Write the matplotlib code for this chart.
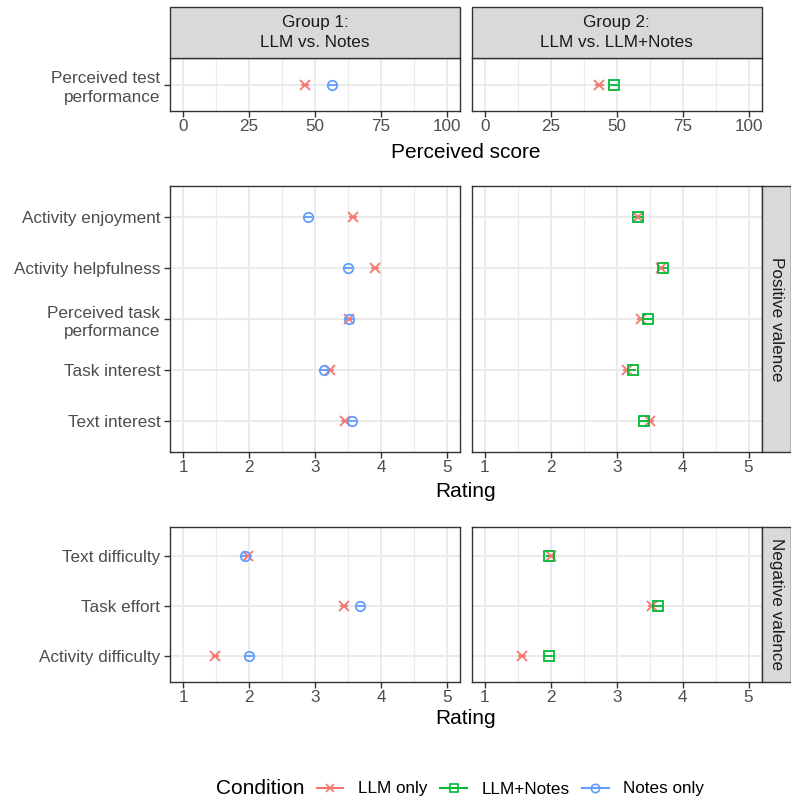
import matplotlib
matplotlib.use('Agg')
import matplotlib.pyplot as plt
from matplotlib.patches import Rectangle
from matplotlib.lines import Line2D

plt.rcParams['font.family'] = ['Liberation Sans', 'DejaVu Sans']

W, H = 791, 801
fig = plt.figure(figsize=(W / 100, H / 100), dpi=100)

# ---------------- data ----------------
conditions = ['LLM only', 'LLM+Notes', 'Notes only']
colors = {'LLM only': '#F8766D', 'LLM+Notes': '#00BA38', 'Notes only': '#619CFF'}
markers = {'LLM only': 'x', 'LLM+Notes': 's', 'Notes only': 'o'}

group_titles = ['Group 1:\nLLM vs. Notes', 'Group 2:\nLLM vs. LLM+Notes']
row_titles = [None, 'Positive valence', 'Negative valence']

perceived_items = ['Perceived test\nperformance']
g1_perceived_llm = [46.3]
g1_perceived_notes = [56.6]
g2_perceived_llm = [43.4]
g2_perceived_llmnotes = [49.0]

positive_items = ['Activity enjoyment', 'Activity helpfulness',
                  'Perceived task\nperformance', 'Task interest', 'Text interest']
g1_pos_llm = [3.58, 3.91, 3.52, 3.23, 3.45]
g1_pos_notes = [2.89, 3.50, 3.51, 3.14, 3.56]
g2_pos_llm = [3.33, 3.67, 3.37, 3.16, 3.50]
g2_pos_llmnotes = [3.33, 3.71, 3.48, 3.24, 3.42]

negative_items = ['Text difficulty', 'Task effort', 'Activity difficulty']
g1_neg_llm = [1.99, 3.44, 1.49]
g1_neg_notes = [1.94, 3.69, 2.00]
g2_neg_llm = [2.01, 3.53, 1.56]
g2_neg_llmnotes = [1.98, 3.62, 1.97]

score_ticks = [0, 25, 50, 75, 100]
rating_ticks = [1, 2, 3, 4, 5]
score_err = 1.6
rating_err = 0.06

rows = [
    dict(items=perceived_items, ticks=score_ticks, xlim=(-5, 105), minor=[12.5, 37.5, 62.5, 87.5],
         err=score_err, xlabel='Perceived score', ylim=(-0.6, 0.6),
         g1={'LLM only': g1_perceived_llm, 'Notes only': g1_perceived_notes},
         g2={'LLM only': g2_perceived_llm, 'LLM+Notes': g2_perceived_llmnotes}),
    dict(items=positive_items, ticks=rating_ticks, xlim=(0.8, 5.2), minor=[1.5, 2.5, 3.5, 4.5],
         err=rating_err, xlabel='Rating', ylim=(-0.6, 4.6),
         g1={'LLM only': g1_pos_llm, 'Notes only': g1_pos_notes},
         g2={'LLM only': g2_pos_llm, 'LLM+Notes': g2_pos_llmnotes}),
    dict(items=negative_items, ticks=rating_ticks, xlim=(0.8, 5.2), minor=[1.5, 2.5, 3.5, 4.5],
         err=rating_err, xlabel='Rating', ylim=(-0.52, 2.58),
         g1={'LLM only': g1_neg_llm, 'Notes only': g1_neg_notes},
         g2={'LLM only': g2_neg_llm, 'LLM+Notes': g2_neg_llmnotes}),
]

# ---------------- layout (pixels) ----------------
cols_px = [(170, 460), (471.7, 761.7)]
rows_px = [(58, 111), (186, 452), (527, 682)]
strip_top = 7
right_strip = (761.7, 791)


def fax(l, t, r, b):
    return [l / W, 1 - b / H, (r - l) / W, (b - t) / H]


BORDER = '#333333'
GRID = '#EBEBEB'
TXT = '#4D4D4D'
FS_TICK = 12.3
FS_TITLE = 15

for ri, row in enumerate(rows):
    t, b = rows_px[ri]
    n = len(row['items'])
    ypos = list(range(n - 1, -1, -1))
    for ci, (l, r) in enumerate(cols_px):
        ax = fig.add_axes(fax(l, t, r, b))
        ax.set_xlim(*row['xlim'])
        ax.set_ylim(*row['ylim'])
        for m in row['minor']:
            ax.axvline(m, color=GRID, lw=0.8, zorder=0)
        for tk in row['ticks']:
            ax.axvline(tk, color=GRID, lw=1.5, zorder=0)
        for y in ypos:
            ax.axhline(y, color=GRID, lw=1.5, zorder=0)
        data = row['g1'] if ci == 0 else row['g2']
        for cond in conditions:
            if cond not in data:
                continue
            vals = data[cond]
            ax.errorbar(vals, ypos, xerr=row['err'], fmt=markers[cond],
                        mfc='none', mec=colors[cond], ecolor=colors[cond],
                        ms=6.8, mew=1.3, elinewidth=1.3, capsize=0, zorder=3)
        ax.set_xticks(row['ticks'])
        ax.set_xticklabels([str(v) for v in row['ticks']])
        ax.tick_params(axis='x', length=4, width=1.0, color=BORDER, labelsize=FS_TICK,
                       labelcolor=TXT, pad=2)
        if ci == 0:
            ax.set_yticks(ypos)
            ax.set_yticklabels(row['items'], linespacing=1.3)
            ax.tick_params(axis='y', length=4, width=1.0, color=BORDER, labelsize=FS_TICK,
                           labelcolor=TXT, pad=3)
        else:
            ax.set_yticks([])
        for s in ax.spines.values():
            s.set_color(BORDER)
            s.set_linewidth(1.0)
        ax.set_facecolor('white')
        # column strips on top row
        if ri == 0:
            rect = Rectangle((l / W, 1 - t / H), (r - l) / W, (t - strip_top) / H,
                             transform=fig.transFigure, facecolor='#D9D9D9',
                             edgecolor=BORDER, lw=1.0, zorder=0)
            fig.patches.append(rect)
            fig.text((l + r) / 2 / W, 1 - (t + strip_top) / 2 / H, group_titles[ci],
                     ha='center', va='center', fontsize=FS_TICK, color='#1A1A1A',
                     linespacing=1.35)
    # row strips on right
    if row_titles[ri]:
        rl, rr = right_strip
        rect = Rectangle((rl / W, 1 - b / H), (rr - rl) / W, (b - t) / H,
                         transform=fig.transFigure, facecolor='#D9D9D9',
                         edgecolor=BORDER, lw=1.0, zorder=0)
        fig.patches.append(rect)
        fig.text((rl + rr) / 2 / W, 1 - (t + b) / 2 / H, row_titles[ri],
                 ha='center', va='center', rotation=270, fontsize=FS_TICK, color='#1A1A1A')
    # x-axis title
    xl_y = {0: 152, 1: 492, 2: 718}[ri]
    fig.text((cols_px[0][0] + cols_px[1][1]) / 2 / W, 1 - xl_y / H, row['xlabel'],
             ha='center', va='center', fontsize=FS_TITLE, color='black')

# ---------------- legend ----------------
fig.text(216 / W, 1 - 788 / H, 'Condition', ha='left', va='center', fontsize=FS_TITLE)
handles = [Line2D([0], [0], color=colors[c], marker=markers[c], mfc='none',
                  mec=colors[c], ms=6, mew=1.2, lw=1.5) for c in conditions]
fig.legend(handles, conditions, loc='center left', bbox_to_anchor=(317 / W, 1 - 789 / H),
           ncol=3, frameon=False, fontsize=FS_TICK, handlelength=1.55, handletextpad=0.85,
           columnspacing=0.75, borderpad=0, borderaxespad=0)

fig.savefig('out.png', dpi=100, facecolor='white')
